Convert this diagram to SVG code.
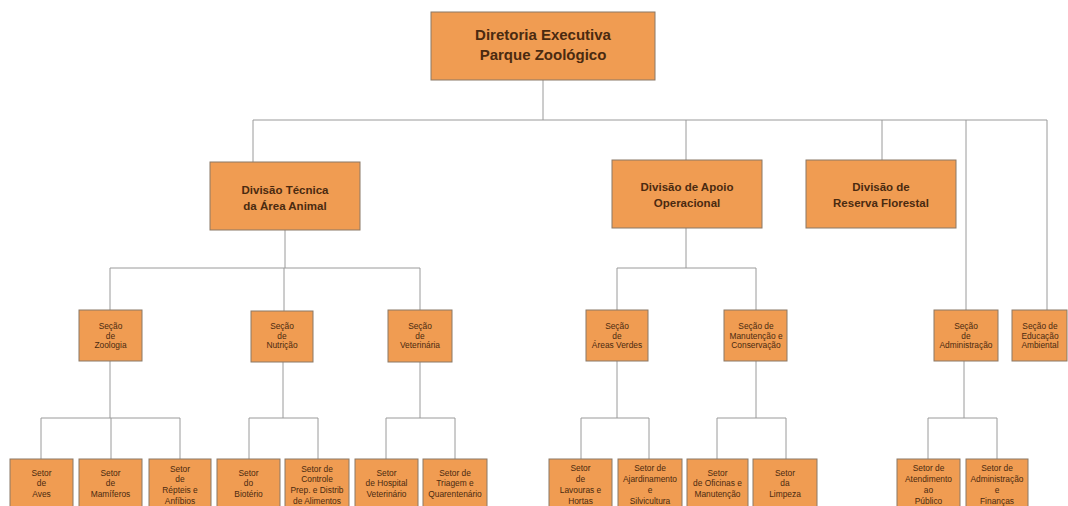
<svg xmlns="http://www.w3.org/2000/svg" width="1068" height="506" viewBox="0 0 1068 506">
<style>
.b{fill:#F09C52;stroke:#8a7866;stroke-width:1}
.t{font-family:'Liberation Sans',Arial,sans-serif;fill:#4a2a10;text-anchor:middle}
.h{font-weight:bold;font-size:15px}
.d{font-weight:bold;font-size:11.5px}
.s{font-size:8.4px}
.c{fill:none;stroke:#9a9a9a;stroke-width:1}
</style>
<rect width="1068" height="506" fill="#fff"/>
<g id="connectors" class="c">
<path d="M543 80V120M253 120H1047M253 120V162M686 120V160M882 120V160M966 120V310M1047 120V310"/>
<path d="M285 230V268M110 268H420M110 268V310M284 268V311M420 268V310"/>
<path d="M686 228V268M617 268H756M617 268V310M756 268V310"/>
<path d="M110 361V418M41 418H180M41 418V459M111 418V459M180 418V459"/>
<path d="M283 362V418M249 418H318M249 418V459M318 418V459"/>
<path d="M420 362V418M386 418H455M386 418V459M455 418V459"/>
<path d="M617 361V418M581 418H649M581 418V459M649 418V459"/>
<path d="M756 361V418M717 418H786M717 418V459M786 418V459"/>
<path d="M964 361V418M928 418H997M928 418V459M997 418V459"/>
</g>
<g id="diretoria"><rect class="b" x="431" y="12" width="224" height="68"/><text class="t h" x="543" y="40">Diretoria Executiva</text><text class="t h" x="543" y="60">Parque Zoológico</text></g>
<g id="div-tecnica"><rect class="b" x="210" y="162" width="150" height="68"/><text class="t d" x="285" y="194">Divisão Técnica</text><text class="t d" x="285" y="210">da Área Animal</text></g>
<g id="div-apoio"><rect class="b" x="612" y="160" width="150" height="68"/><text class="t d" x="687" y="191">Divisão de Apoio</text><text class="t d" x="687" y="207">Operacional</text></g>
<g id="div-reserva"><rect class="b" x="806" y="160" width="150" height="68"/><text class="t d" x="881" y="191">Divisão de</text><text class="t d" x="881" y="207">Reserva Florestal</text></g>
<g id="sec-zoologia"><rect class="b" x="79" y="310" width="63" height="51"/><text class="t s" x="110.5" y="329">Seção</text><text class="t s" x="110.5" y="338.5">de</text><text class="t s" x="110.5" y="348">Zoologia</text></g>
<g id="sec-nutricao"><rect class="b" x="251" y="311" width="62" height="51"/><text class="t s" x="282" y="329">Seção</text><text class="t s" x="282" y="338.5">de</text><text class="t s" x="282" y="348">Nutrição</text></g>
<g id="sec-veterinaria"><rect class="b" x="388" y="310" width="64" height="52"/><text class="t s" x="420" y="329">Seção</text><text class="t s" x="420" y="338.5">de</text><text class="t s" x="420" y="348">Veterinária</text></g>
<g id="sec-areas"><rect class="b" x="586" y="310" width="62" height="51"/><text class="t s" x="617" y="329">Seção</text><text class="t s" x="617" y="338.5">de</text><text class="t s" x="617" y="348">Áreas Verdes</text></g>
<g id="sec-manutencao"><rect class="b" x="724" y="310" width="63" height="51"/><text class="t s" x="756" y="329">Seção de</text><text class="t s" x="756" y="338.5">Manutenção e</text><text class="t s" x="756" y="348">Conservação</text></g>
<g id="sec-administracao"><rect class="b" x="934" y="310" width="64" height="51"/><text class="t s" x="966" y="329">Seção</text><text class="t s" x="966" y="338.5">de</text><text class="t s" x="966" y="348">Administração</text></g>
<g id="sec-educacao"><rect class="b" x="1012" y="310" width="55" height="51"/><text class="t s" x="1040" y="329">Seção de</text><text class="t s" x="1040" y="338.5">Educação</text><text class="t s" x="1040" y="348">Ambiental</text></g>
<g id="set-aves"><rect class="b" x="10" y="459" width="63" height="52"/><text class="t s" x="41.5" y="476">Setor</text><text class="t s" x="41.5" y="486">de</text><text class="t s" x="41.5" y="497">Aves</text></g>
<g id="set-mamiferos"><rect class="b" x="79" y="459" width="63" height="52"/><text class="t s" x="110.5" y="476">Setor</text><text class="t s" x="110.5" y="486">de</text><text class="t s" x="110.5" y="497">Mamíferos</text></g>
<g id="set-repteis"><rect class="b" x="149" y="459" width="62" height="52"/><text class="t s" x="180" y="472">Setor</text><text class="t s" x="180" y="482">de</text><text class="t s" x="180" y="493">Répteis e</text><text class="t s" x="180" y="504">Anfíbios</text></g>
<g id="set-bioterio"><rect class="b" x="217" y="459" width="63" height="52"/><text class="t s" x="248.5" y="476">Setor</text><text class="t s" x="248.5" y="486">do</text><text class="t s" x="248.5" y="497">Biotério</text></g>
<g id="set-controle"><rect class="b" x="285" y="459" width="64" height="52"/><text class="t s" x="317" y="472">Setor de</text><text class="t s" x="317" y="482">Controle</text><text class="t s" x="317" y="493">Prep. e Distrib</text><text class="t s" x="317" y="504">de Alimentos</text></g>
<g id="set-hospital"><rect class="b" x="355" y="459" width="63" height="52"/><text class="t s" x="386.5" y="476">Setor</text><text class="t s" x="386.5" y="486">de Hospital</text><text class="t s" x="386.5" y="497">Veterinário</text></g>
<g id="set-triagem"><rect class="b" x="423" y="459" width="64" height="52"/><text class="t s" x="455" y="476">Setor de</text><text class="t s" x="455" y="486">Triagem e</text><text class="t s" x="455" y="497">Quarentenário</text></g>
<g id="set-lavouras"><rect class="b" x="549" y="459" width="63" height="52"/><text class="t s" x="580.5" y="471">Setor</text><text class="t s" x="580.5" y="482">de</text><text class="t s" x="580.5" y="493">Lavouras e</text><text class="t s" x="580.5" y="504">Hortas</text></g>
<g id="set-ajardinamento"><rect class="b" x="618" y="459" width="64" height="52"/><text class="t s" x="650" y="471">Setor de</text><text class="t s" x="650" y="482">Ajardinamento</text><text class="t s" x="650" y="493">e</text><text class="t s" x="650" y="504">Silvicultura</text></g>
<g id="set-oficinas"><rect class="b" x="687" y="459" width="61" height="52"/><text class="t s" x="717.5" y="476">Setor</text><text class="t s" x="717.5" y="486">de Oficinas e</text><text class="t s" x="717.5" y="497">Manutenção</text></g>
<g id="set-limpeza"><rect class="b" x="753" y="459" width="64" height="52"/><text class="t s" x="785" y="476">Setor</text><text class="t s" x="785" y="486">da</text><text class="t s" x="785" y="497">Limpeza</text></g>
<g id="set-atendimento"><rect class="b" x="897" y="459" width="63" height="52"/><text class="t s" x="928.5" y="471">Setor de</text><text class="t s" x="928.5" y="482">Atendimento</text><text class="t s" x="928.5" y="493">ao</text><text class="t s" x="928.5" y="504">Público</text></g>
<g id="set-financas"><rect class="b" x="966" y="459" width="62" height="52"/><text class="t s" x="997" y="471">Setor de</text><text class="t s" x="997" y="482">Administração</text><text class="t s" x="997" y="493">e</text><text class="t s" x="997" y="504">Finanças</text></g>
</svg>
